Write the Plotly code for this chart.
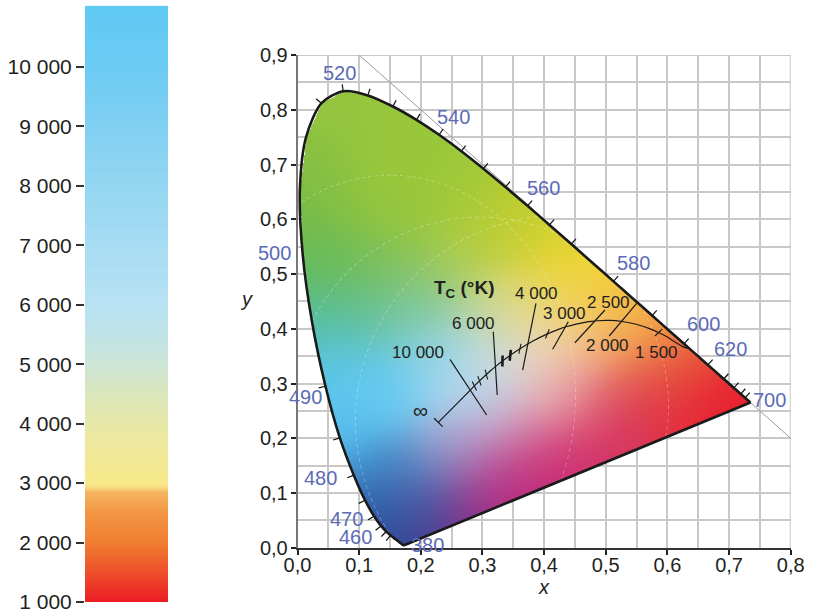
import base64, struct, zlib
import numpy as np
import plotly.graph_objects as go

# ---------------- data ----------------
wavelength = [380, 385, 390, 395, 400, 405, 410, 415, 420, 425, 430, 435, 440, 445, 450,
              455, 460, 465, 470, 475, 480, 485, 490, 495, 500, 505, 510, 515, 520, 525,
              530, 535, 540, 545, 550, 555, 560, 565, 570, 575, 580, 585, 590, 595, 600,
              605, 610, 615, 620, 625, 630, 635, 640, 645, 650, 655, 660, 665, 670, 675,
              680, 685, 690, 695, 700]
locus_x = [0.1741, 0.1740, 0.1738, 0.1736, 0.1733, 0.1730, 0.1726, 0.1721, 0.1714, 0.1703,
           0.1689, 0.1669, 0.1644, 0.1611, 0.1566, 0.1510, 0.1440, 0.1355, 0.1241, 0.1096,
           0.0913, 0.0687, 0.0454, 0.0235, 0.0082, 0.0039, 0.0139, 0.0389, 0.0743, 0.1142,
           0.1547, 0.1929, 0.2296, 0.2658, 0.3016, 0.3373, 0.3731, 0.4087, 0.4441, 0.4788,
           0.5125, 0.5448, 0.5752, 0.6029, 0.6270, 0.6482, 0.6658, 0.6801, 0.6915, 0.7006,
           0.7079, 0.7140, 0.7190, 0.7230, 0.7260, 0.7283, 0.7300, 0.7311, 0.7320, 0.7327,
           0.7334, 0.7340, 0.7344, 0.7346, 0.7347]
locus_y = [0.0050, 0.0050, 0.0049, 0.0049, 0.0048, 0.0048, 0.0048, 0.0048, 0.0051, 0.0058,
           0.0069, 0.0086, 0.0109, 0.0138, 0.0177, 0.0227, 0.0297, 0.0399, 0.0578, 0.0868,
           0.1327, 0.2007, 0.2950, 0.4127, 0.5384, 0.6548, 0.7502, 0.8120, 0.8338, 0.8262,
           0.8059, 0.7816, 0.7543, 0.7243, 0.6923, 0.6589, 0.6245, 0.5896, 0.5547, 0.5202,
           0.4866, 0.4544, 0.4242, 0.3965, 0.3725, 0.3514, 0.3340, 0.3197, 0.3083, 0.2993,
           0.2920, 0.2859, 0.2809, 0.2770, 0.2740, 0.2717, 0.2700, 0.2689, 0.2680, 0.2673,
           0.2666, 0.2660, 0.2656, 0.2654, 0.2653]

tick_wl = [455, 460, 465, 470, 475, 480, 485, 490, 515, 520, 525, 530, 535, 540, 545,
           550, 555, 560, 565, 570, 580, 590, 600, 610, 620, 630, 640, 650]
label_wl = [380, 460, 470, 480, 490, 500, 520, 540, 560, 580, 600, 620, 700]

planck_T = [1150, 1200, 1400, 1500, 1600, 1800, 2000, 2200, 2400, 2500, 2600, 2800, 3000,
            3200, 3500, 4000, 4500, 5000, 5500, 6000, 6500, 7000, 8000, 9000, 10000, float("inf")]
planck_x = [0.6360, 0.6251, 0.5985, 0.5857, 0.5732, 0.5493, 0.5267, 0.5056, 0.4862, 0.4770,
            0.4682, 0.4519, 0.4369, 0.4234, 0.4053, 0.3805, 0.3608, 0.3451, 0.3325, 0.3221,
            0.3135, 0.3064, 0.2952, 0.2869, 0.2807, 0.2285]
planck_y = [0.3635, 0.3674, 0.3858, 0.3931, 0.3993, 0.4082, 0.4133, 0.4152, 0.4147, 0.4137,
            0.4123, 0.4086, 0.4041, 0.3990, 0.3907, 0.3768, 0.3636, 0.3516, 0.3411, 0.3318,
            0.3237, 0.3166, 0.3048, 0.2956, 0.2884, 0.2290]
thin_tick_T = [1500, 3500, 4500, 7000, 8000, 9000]
thick_tick_T = [5000, 5500]

iso_T = [10000, 6000, 4000, 3000, 2500, 2000]
iso_x0 = [0.2473, 0.3175, 0.3868, 0.4392, 0.4987, 0.5501]
iso_y0 = [0.3442, 0.3946, 0.4465, 0.4129, 0.4343, 0.4465]
iso_x1 = [0.3068, 0.3240, 0.3652, 0.4139, 0.4500, 0.5057]
iso_y1 = [0.2425, 0.2790, 0.3247, 0.3625, 0.3745, 0.3868]

iso_label_text = ["10 000", "6 000", "4 000", "3 000", "2 500", "2 000", "1 500", "∞"]
iso_label_x = [0.1959, 0.2860, 0.3879, 0.4338, 0.5041, 0.5036, 0.5819, 0.2000]
iso_label_y = [0.3563, 0.4101, 0.4648, 0.4282, 0.4479, 0.3703, 0.3563, 0.2502]

x_tick_vals = [0.0, 0.1, 0.2, 0.3, 0.4, 0.5, 0.6, 0.7, 0.8]
x_tick_text = ["0,0", "0,1", "0,2", "0,3", "0,4", "0,5", "0,6", "0,7", "0,8"]
y_tick_vals = [0.0, 0.1, 0.2, 0.3, 0.4, 0.5, 0.6, 0.7, 0.8, 0.9]
y_tick_text = ["0,0", "0,1", "0,2", "0,3", "0,4", "0,5", "0,6", "0,7", "0,8", "0,9"]

cb_tick_vals = [1000, 2000, 3000, 4000, 5000, 6000, 7000, 8000, 9000, 10000]
cb_tick_text = ["1 000", "2 000", "3 000", "4 000", "5 000", "6 000", "7 000", "8 000", "9 000", "10 000"]
cb_T = [1000, 1500, 2000, 2500, 2850, 2930, 3000, 3500, 4000, 4500, 5000, 5500, 6000,
        7000, 8000, 9000, 10000, 11030]
cb_col = ["#ED1C24", "#EE4F2B", "#F07E31", "#F29542", "#F5B560", "#F7DC82", "#F8E98A",
          "#F0E898", "#E7E8A8", "#DAE6BB", "#CCE5D5", "#C0E3E8", "#B8E2F3", "#A6DCF2",
          "#94D6F1", "#80D0F2", "#6CCBF3", "#5FCAF4"]

# ---------------- layout constants (styles) ----------------
W, H = 814, 611
XDOM = [297.5 / W, 790.7 / W]
YDOM = [1 - 547.8 / H, 1 - 55.0 / H]
XR, YR = [0, 0.8], [0, 0.9]
PX_X = (XDOM[1] - XDOM[0]) * W / (XR[1] - XR[0])
PX_Y = (YDOM[1] - YDOM[0]) * H / (YR[1] - YR[0])
FONT = "Liberation Sans, Arial, Helvetica, sans-serif"
TXT = "#231f20"
WL_COL = "#5b6bb6"

anchors = [
    (0.07, 0.80, (150, 198, 62)), (0.02, 0.70, (135, 192, 66)), (0.15, 0.72, (152, 199, 60)),
    (0.22, 0.68, (155, 200, 58)), (0.12, 0.62, (148, 197, 62)), (0.28, 0.62, (165, 202, 55)),
    (0.33, 0.58, (188, 206, 50)), (0.20, 0.57, (150, 198, 62)), (0.02, 0.60, (120, 188, 72)),
    (0.02, 0.52, (100, 186, 92)), (0.08, 0.52, (112, 190, 88)), (0.15, 0.50, (122, 192, 100)),
    (0.27, 0.53, (185, 208, 80)), (0.22, 0.48, (140, 200, 130)),
    (0.03, 0.43, (85, 190, 150)), (0.10, 0.42, (95, 192, 155)), (0.18, 0.42, (120, 200, 175)),
    (0.04, 0.34, (90, 195, 225)), (0.10, 0.32, (95, 200, 240)), (0.16, 0.28, (105, 205, 242)),
    (0.08, 0.22, (90, 195, 240)), (0.22, 0.36, (140, 210, 235)), (0.26, 0.30, (168, 218, 243)),
    (0.30, 0.27, (190, 222, 240)), (0.33, 0.33, (212, 224, 232)), (0.29, 0.40, (180, 215, 195)),
    (0.13, 0.14, (60, 140, 205)), (0.15, 0.08, (45, 95, 170)), (0.17, 0.03, (40, 65, 145)),
    (0.20, 0.09, (75, 100, 170)), (0.22, 0.16, (120, 160, 210)),
    (0.24, 0.05, (105, 50, 140)), (0.30, 0.08, (170, 40, 130)), (0.36, 0.12, (195, 40, 120)),
    (0.30, 0.15, (185, 90, 160)), (0.27, 0.21, (180, 175, 215)), (0.35, 0.22, (215, 130, 170)),
    (0.42, 0.18, (210, 50, 110)), (0.40, 0.28, (235, 185, 190)), (0.45, 0.30, (235, 155, 155)),
    (0.50, 0.25, (215, 50, 90)), (0.55, 0.32, (228, 90, 80)), (0.60, 0.30, (225, 45, 70)),
    (0.66, 0.30, (230, 40, 50)), (0.72, 0.27, (232, 28, 45)), (0.63, 0.35, (236, 110, 60)),
    (0.58, 0.38, (242, 150, 70)), (0.52, 0.40, (245, 185, 100)), (0.47, 0.38, (244, 200, 150)),
    (0.40, 0.36, (240, 220, 190)), (0.38, 0.42, (235, 220, 160)), (0.33, 0.45, (215, 215, 125)),
    (0.42, 0.47, (240, 212, 80)), (0.48, 0.46, (245, 205, 60)), (0.55, 0.42, (245, 185, 55)),
    (0.45, 0.52, (240, 216, 45)), (0.40, 0.55, (222, 212, 48)), (0.37, 0.60, (192, 205, 48)),
]
SIGMA = 0.05

dx_img = 1.0 / PX_X
dy_img = 1.0 / PX_Y
nx = int(0.75 / dx_img) + 1
ny = int(0.85 / dy_img) + 1
gx = (np.arange(nx) + 0.5) * dx_img
gy = (np.arange(ny) + 0.5) * dy_img
X, Y = np.meshgrid(gx, gy)

px_ = np.array(locus_x)
py_ = np.array(locus_y)
inside = np.zeros(X.shape, dtype=bool)
n = len(px_)
for i in range(n):
    x1, y1 = px_[i], py_[i]
    x2, y2 = px_[(i + 1) % n], py_[(i + 1) % n]
    if y1 == y2:
        continue
    cond = ((y1 > Y) != (y2 > Y))
    xint = x1 + (Y - y1) * (x2 - x1) / (y2 - y1)
    inside ^= cond & (X < xint)

sw = np.zeros(X.shape)
sr = np.zeros(X.shape)
sg = np.zeros(X.shape)
sb = np.zeros(X.shape)
for ax_, ay_, (r, g, b) in anchors:
    w = np.exp(-((X - ax_) ** 2 + (Y - ay_) ** 2) / (2 * SIGMA ** 2)) + 1e-12
    sw += w
    sr += w * r
    sg += w * g
    sb += w * b
R = sr / sw
G = sg / sw
B = sb / sw

SX = XDOM[0] * W + X * PX_X
SY = (1 - YDOM[0]) * H - Y * PX_Y
for cx, cy, rx, ry in [(390, 395, 185, 220), (560, 420, 205, 205), (480, 405, 188, 188)]:
    ex = (SX - cx) / rx
    ey = (SY - cy) / ry
    rr = np.hypot(ex, ey)
    ang = np.arctan2(ey, ex)
    dist = (rr - 1) * (rx + ry) / 2
    on = np.mod((rx + ry) / 2 * ang, 7.0) < 4.0
    a = np.clip(1 - np.abs(dist) / 0.8, 0, 1) * on * 0.3
    R = R * (1 - a) + 255 * a
    G = G * (1 - a) + 255 * a
    B = B * (1 - a) + 255 * a

rgba = np.zeros((ny, nx, 4), dtype=np.uint8)
rgba[..., 0] = np.clip(R, 0, 255).astype(np.uint8)
rgba[..., 1] = np.clip(G, 0, 255).astype(np.uint8)
rgba[..., 2] = np.clip(B, 0, 255).astype(np.uint8)
rgba[..., 3] = np.where(inside, 255, 0).astype(np.uint8)


def png_uri(arr):
    h, w, _ = arr.shape
    raw = b"".join(b"\x00" + arr[r].tobytes() for r in range(h))

    def chunk(t, d):
        c = struct.pack(">I", len(d)) + t + d
        return c + struct.pack(">I", zlib.crc32(t + d) & 0xFFFFFFFF)

    png = (b"\x89PNG\r\n\x1a\n" + chunk(b"IHDR", struct.pack(">IIBBBBB", w, h, 8, 6, 0, 0, 0))
           + chunk(b"IDAT", zlib.compress(raw, 9)) + chunk(b"IEND", b""))
    return "data:image/png;base64," + base64.b64encode(png).decode()


uri = png_uri(rgba)

fig = go.Figure()
fig.add_trace(go.Image(source=uri, x0=dx_img / 2, y0=dy_img / 2, dx=dx_img, dy=dy_img,
                       hoverinfo="skip", xaxis="x", yaxis="y"))

fig.add_trace(go.Scatter(x=[0.1, 0.8], y=[0.9, 0.2], mode="lines",
                         line=dict(color="#9a9a9a", width=1), hoverinfo="skip"))

idx = {w: i for i, w in enumerate(wavelength)}
cxs = 0.33 * PX_X
cys = 0.33 * PX_Y


def locus_normal(w):
    i = idx[w]
    a, b = max(i - 1, 0), min(i + 1, n - 1)
    tx = (locus_x[b] - locus_x[a]) * PX_X
    ty = (locus_y[b] - locus_y[a]) * PX_Y
    nx_, ny_ = -ty, tx
    L = np.hypot(nx_, ny_)
    nx_, ny_ = nx_ / L, ny_ / L
    if nx_ * (locus_x[i] * PX_X - cxs) + ny_ * (locus_y[i] * PX_Y - cys) < 0:
        nx_, ny_ = -nx_, -ny_
    return nx_, ny_


tkx, tky = [], []
for w in tick_wl:
    i = idx[w]
    nx_, ny_ = locus_normal(w)
    tkx += [locus_x[i], locus_x[i] + 7 * nx_ / PX_X, None]
    tky += [locus_y[i], locus_y[i] + 7 * ny_ / PX_Y, None]
fig.add_trace(go.Scatter(x=tkx, y=tky, mode="lines", line=dict(color="#111", width=1.2),
                         hoverinfo="skip"))

fig.add_trace(go.Scatter(x=locus_x, y=locus_y, mode="lines",
                         line=dict(color="#1a1a1a", width=2.6, shape="spline", smoothing=0.8),
                         hoverinfo="skip"))
fig.add_trace(go.Scatter(x=[locus_x[-1], locus_x[0]], y=[locus_y[-1], locus_y[0]], mode="lines",
                         line=dict(color="#1a1a1a", width=2.6), hoverinfo="skip"))

fig.add_trace(go.Scatter(x=planck_x, y=planck_y, mode="lines",
                         line=dict(color="#1a1a1a", width=1.2, shape="spline", smoothing=0.6),
                         hoverinfo="skip"))


def uv(x, y):
    d = -2 * x + 12 * y + 3
    return 4 * x / d, 6 * y / d


def xy(u, v):
    d = 2 * u - 8 * v + 4
    return 3 * u / d, 2 * v / d


pidx = {t: i for i, t in enumerate(planck_T)}


def iso_dir(t):
    i = pidx[t]
    u0, v0 = uv(planck_x[i - 1], planck_y[i - 1])
    u1, v1 = uv(planck_x[i + 1], planck_y[i + 1])
    tu, tv = u1 - u0, v1 - v0
    L = np.hypot(tu, tv)
    nu, nv = -tv / L, tu / L
    uc, vc = uv(planck_x[i], planck_y[i])
    xa, ya = xy(uc + 0.001 * nu, vc + 0.001 * nv)
    ddx = (xa - planck_x[i]) * PX_X
    ddy = (ya - planck_y[i]) * PX_Y
    L = np.hypot(ddx, ddy)
    return ddx / L, ddy / L


for temps_, length, width in [(thin_tick_T, 10, 1.1), (thick_tick_T, 11, 2.6)]:
    sx, sy = [], []
    for t in temps_:
        i = pidx[t]
        ux, uy = iso_dir(t)
        sx += [planck_x[i] - length / 2 * ux / PX_X, planck_x[i] + length / 2 * ux / PX_X, None]
        sy += [planck_y[i] - length / 2 * uy / PX_Y, planck_y[i] + length / 2 * uy / PX_Y, None]
    fig.add_trace(go.Scatter(x=sx, y=sy, mode="lines", line=dict(color="#1a1a1a", width=width),
                             hoverinfo="skip"))

ie = len(planck_T) - 1
tx = (planck_x[ie] - planck_x[ie - 1]) * PX_X
ty = (planck_y[ie] - planck_y[ie - 1]) * PX_Y
L = np.hypot(tx, ty)
ux, uy = -ty / L, tx / L
fig.add_trace(go.Scatter(
    x=[planck_x[ie] - 6 * ux / PX_X, planck_x[ie] + 6 * ux / PX_X],
    y=[planck_y[ie] - 6 * uy / PX_Y, planck_y[ie] + 6 * uy / PX_Y],
    mode="lines", line=dict(color="#1a1a1a", width=1.3), hoverinfo="skip"))

ix, iy = [], []
for a0, b0, a1, b1 in zip(iso_x0, iso_y0, iso_x1, iso_y1):
    ix += [a0, a1, None]
    iy += [b0, b1, None]
fig.add_trace(go.Scatter(x=ix, y=iy, mode="lines", line=dict(color="#1a1a1a", width=1.2),
                         hoverinfo="skip"))

temps = list(range(1000, 11031, 10))
span = cb_T[-1] - cb_T[0]
cscale = [[(t - cb_T[0]) / span, c] for t, c in zip(cb_T, cb_col)]
fig.add_trace(go.Heatmap(z=[[t] for t in temps], x=[0], y=temps, colorscale=cscale,
                         zmin=cb_T[0], zmax=cb_T[-1], showscale=False, hoverinfo="skip",
                         xaxis="x2", yaxis="y2"))

annotations = []
label_dx = [22.9, -30.3, -28.0, -33.1, -20.2, -27.9, -4.0, 14.6, 15.5, 19.8, 19.6, 7.1, 19.5]
label_dy = [-0.4, 5.5, 2.6, 2.4, 11.2, 0.0, -18.4, -17.3, -18.3, -18.0, -19.6, -29.8, -2.8]
for w, ddx, ddy in zip(label_wl, label_dx, label_dy):
    i = idx[w]
    annotations.append(dict(x=locus_x[i], y=locus_y[i], xref="x", yref="y", text=str(w),
                            showarrow=False, xshift=ddx, yshift=-ddy, xanchor="center",
                            yanchor="middle", font=dict(family=FONT, size=20, color=WL_COL)))
for t, lx, ly in zip(iso_label_text, iso_label_x, iso_label_y):
    annotations.append(dict(x=lx, y=ly, xref="x", yref="y", text=t, showarrow=False,
                            xanchor="center", yanchor="middle",
                            font=dict(family=FONT, size=17 if t != "∞" else 21, color=TXT)))
annotations.append(dict(x=0.2704, y=0.4726, xref="x", yref="y",
                        text="<b>T<sub>C</sub> (°K)</b>", showarrow=False,
                        xanchor="center", yanchor="middle",
                        font=dict(family=FONT, size=19, color=TXT)))
annotations.append(dict(x=544 / W, y=1 - 587 / H, xref="paper", yref="paper", text="<i>x</i>",
                        showarrow=False, xanchor="center", yanchor="middle",
                        font=dict(family=FONT, size=20, color=TXT)))
annotations.append(dict(x=246 / W, y=1 - 299 / H, xref="paper", yref="paper", text="<i>y</i>",
                        showarrow=False, xanchor="center", yanchor="middle",
                        font=dict(family=FONT, size=20, color=TXT)))

GRID = "#c8c8c8"
fig.update_layout(
    width=W, height=H, margin=dict(l=0, r=0, t=0, b=0, pad=0, autoexpand=False),
    paper_bgcolor="white", plot_bgcolor="white", showlegend=False,
    font=dict(family=FONT, size=20, color=TXT),
    xaxis=dict(domain=XDOM, range=XR, autorange=False, tickvals=x_tick_vals, ticktext=x_tick_text,
               ticks="outside", ticklen=5, tickwidth=1.5, tickcolor="#222", automargin=False,
               ticklabelstandoff=-7, ticklabeloverflow="allow",
               showgrid=True, gridcolor=GRID, gridwidth=2, zeroline=False,
               minor=dict(dtick=0.05, showgrid=True, gridcolor=GRID, gridwidth=2),
               showline=True, linecolor="#333", linewidth=2, tickfont=dict(size=20, color=TXT),
               fixedrange=True),
    yaxis=dict(domain=YDOM, range=YR, autorange=False, scaleanchor=False, automargin=False,
               tickvals=y_tick_vals, ticktext=y_tick_text,
               ticks="outside", ticklen=5, tickwidth=1.5, tickcolor="#222",
               ticklabelstandoff=-1, ticklabeloverflow="allow",
               showgrid=True, gridcolor=GRID, gridwidth=2, zeroline=False,
               minor=dict(dtick=0.05, showgrid=True, gridcolor=GRID, gridwidth=2),
               showline=True, linecolor="#777", linewidth=1.5, tickfont=dict(size=20, color=TXT),
               fixedrange=True),
    xaxis2=dict(domain=[85 / W, 168 / W], range=[-0.5, 0.5], visible=False, anchor="y2",
                automargin=False, fixedrange=True),
    yaxis2=dict(domain=[1 - 602 / H, 1 - 5.8 / H], range=[cb_T[0], cb_T[-1]], autorange=False,
                anchor="x2", side="left", tickvals=cb_tick_vals, ticktext=cb_tick_text,
                ticks="outside", ticklen=8, tickwidth=1.5, tickcolor="#333", automargin=False,
                ticklabelstandoff=0, ticklabeloverflow="allow",
                showgrid=False, zeroline=False, showline=False,
                tickfont=dict(size=21, color=TXT), fixedrange=True),
    annotations=annotations,
    shapes=[
        dict(type="line", xref="x", yref="y", x0=0.8, x1=0.8, y0=0, y1=0.9,
             line=dict(color=GRID, width=2), layer="below"),
        dict(type="line", xref="x", yref="y", x0=0, x1=0.8, y0=0.9, y1=0.9,
             line=dict(color=GRID, width=2), layer="below"),
    ],
)

fig.write_html("out.html", config={"displayModeBar": False},
               post_script="document.body.style.margin='0';document.body.style.padding='0';"
                           "document.body.style.overflow='hidden';")
